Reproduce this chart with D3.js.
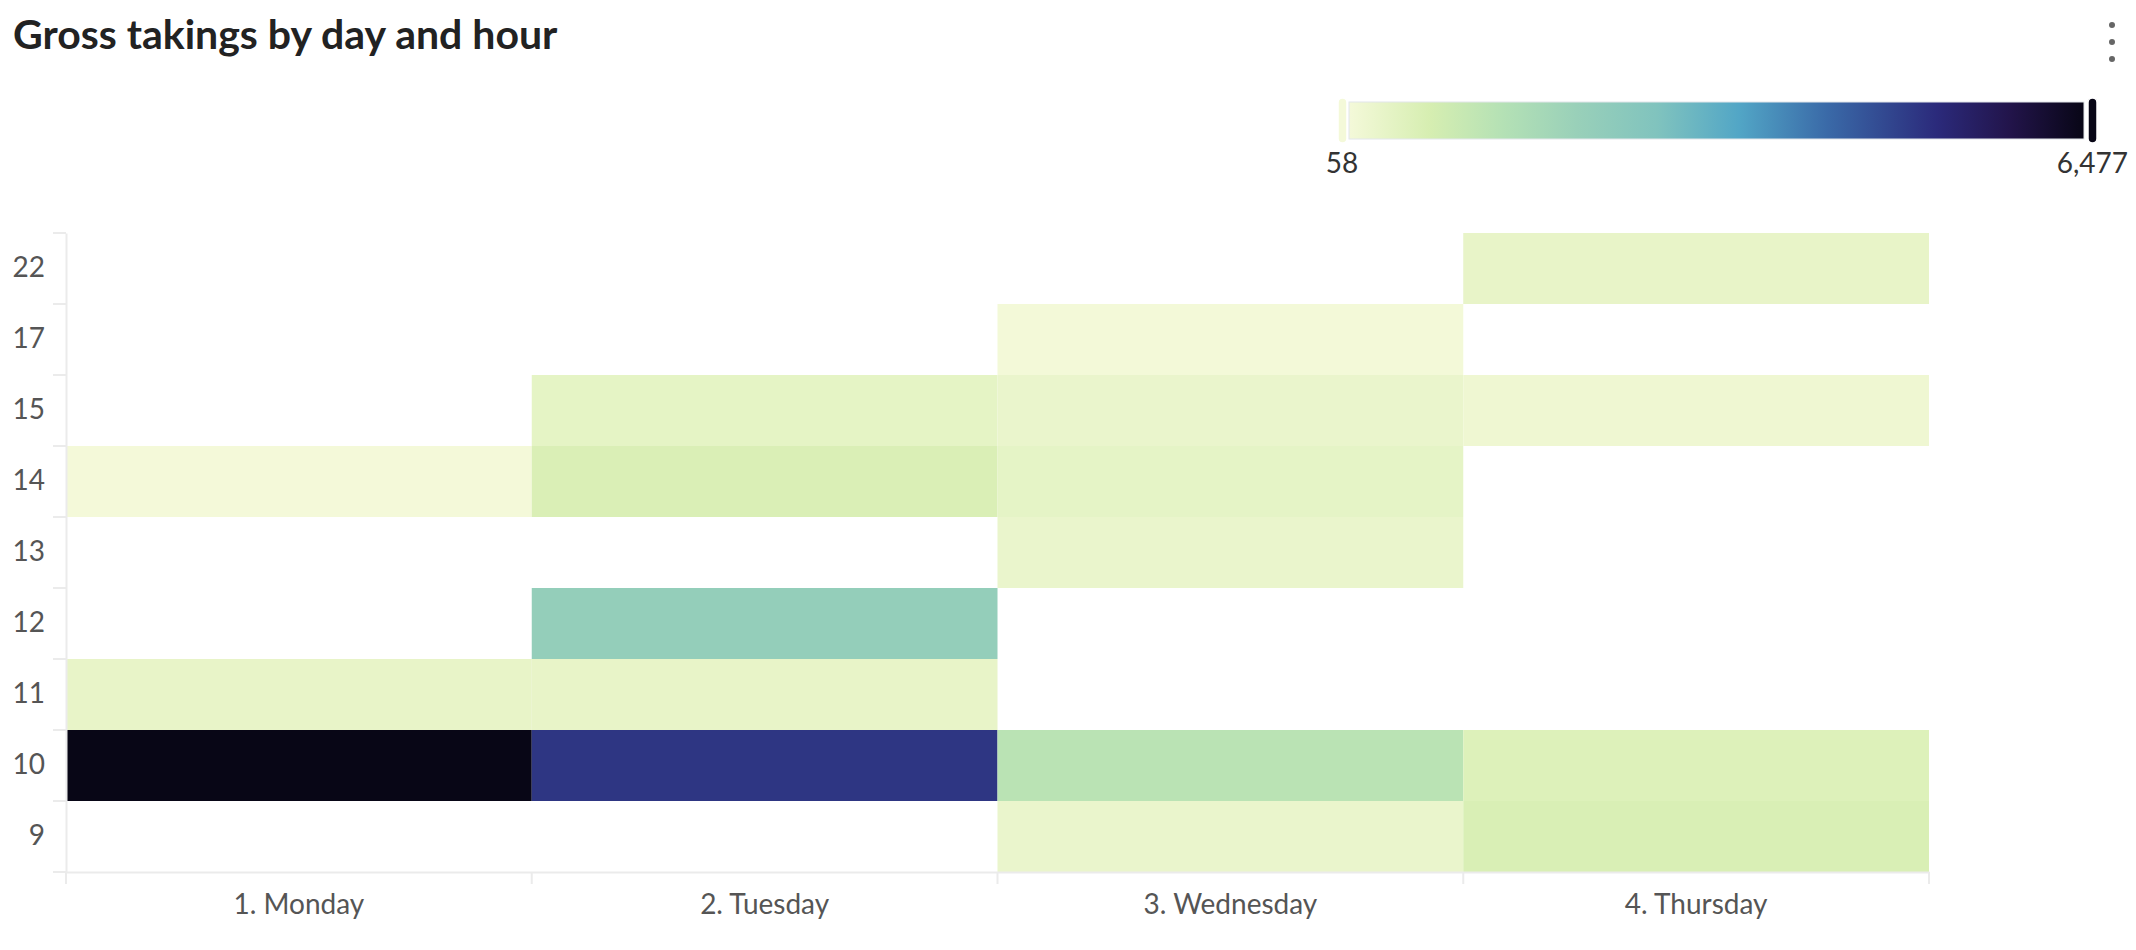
<!DOCTYPE html>
<html lang="en">
<head>
    <meta charset="UTF-8">
    <title>Gross takings by day and hour</title>
    <style>
        body { margin: 0; background: #fff; }
        svg { display: block; font-family: Lato, 'Open Sans', sans-serif; }
    </style>
</head>
<body>
    <div class="visHolder"></div>

    <script src="https://cdnjs.cloudflare.com/ajax/libs/d3/7.2.0/d3.min.js"></script>
    <script>
        // data (null = no sales in that hour)
        var days = ['1. Monday', '2. Tuesday', '3. Wednesday', '4. Thursday'];
        var hours = ['22', '17', '15', '14', '13', '12', '11', '10', '9'];

        var monday    = [null, null, null, 58,   null, null, 350,  6477, null];
        var tuesday   = [null, null, 410,  668,  null, 2180, 350,  5020, null];
        var wednesday = [null, 72,   285,  400,  290,  null, null, 1290, 290];
        var thursday  = [350,  null, 175,  null, null, null, null, 600,  700];

        // colour ramp of the legend (position along the bar, colour)
        var rampPositions = [0, 0.11, 0.21, 0.31, 0.42, 0.53, 0.65, 0.8, 0.9, 1];
        var rampColours = ['#f4f9d9', '#d6eeb1', '#b4e1b5', '#99d0b9', '#80c3be',
                           '#52a6c6', '#3a6aa8', '#2b2a7b', '#22144a', '#080616'];

        var width = 2136, height = 950;
        var margin = { top: 233, right: 207, bottom: 78, left: 66 };
        var plotW = width - margin.left - margin.right;
        var plotH = height - margin.top - margin.bottom;

        var svg = d3.select('.visHolder')
                    .append('svg')
                    .attr('width', width)
                    .attr('height', height);

        // flatten into cells
        var takings = [monday, tuesday, wednesday, thursday];
        var cells = [];
        takings.forEach(function (col, i) {
            col.forEach(function (v, j) {
                if (v !== null) cells.push({ day: days[i], hour: hours[j], value: v });
            });
        });

        var vMin = d3.min(cells, function (d) { return d.value; });
        var vMax = d3.max(cells, function (d) { return d.value; });

        var color = d3.scaleLinear()
                      .domain(rampPositions.map(function (p) { return vMin + p * (vMax - vMin); }))
                      .range(rampColours)
                      .interpolate(d3.interpolateRgb);

        var x = d3.scaleBand().domain(days).range([0, plotW]);
        var y = d3.scaleBand().domain(hours).range([0, plotH]);

        // title
        svg.append('text')
           .attr('x', 13)
           .attr('y', 49)
           .attr('font-size', 41)
           .attr('font-weight', 700)
           .attr('fill', '#222')
           .text('Gross takings by day and hour');

        // menu dots
        svg.selectAll('.dot')
           .data([25, 42, 59])
           .enter()
           .append('circle')
           .attr('cx', 2112)
           .attr('cy', function (d) { return d; })
           .attr('r', 3)
           .attr('fill', '#666');

        // legend
        var legX0 = 1349, legX1 = 2084, legY = 102, legH = 37;
        var grad = svg.append('defs')
                      .append('linearGradient')
                      .attr('id', 'ramp');
        grad.selectAll('stop')
            .data(rampPositions)
            .enter()
            .append('stop')
            .attr('offset', function (d) { return d * 100 + '%'; })
            .attr('stop-color', function (d, i) { return rampColours[i]; });

        svg.append('rect')
           .attr('x', legX0)
           .attr('y', legY)
           .attr('width', legX1 - legX0)
           .attr('height', legH)
           .attr('fill', 'url(#ramp)')
           .attr('stroke', '#e2e6ea')
           .attr('stroke-width', 1);

        // handles at both ends
        svg.selectAll('.handle')
           .data([vMin, vMax])
           .enter()
           .append('rect')
           .attr('x', function (d, i) { return i === 0 ? legX0 - 11 : legX1 + 4; })
           .attr('y', legY - 4)
           .attr('width', 9)
           .attr('height', legH + 8)
           .attr('rx', 4.5)
           .attr('fill', function (d) { return color(d); })
           .attr('stroke', '#fff')
           .attr('stroke-width', 1.5);

        var fmt = d3.format(',');
        svg.append('text')
           .attr('x', legX0 - 7)
           .attr('y', 173)
           .attr('text-anchor', 'middle')
           .attr('font-size', 28)
           .attr('fill', '#333')
           .text(fmt(vMin));
        svg.append('text')
           .attr('x', 2128)
           .attr('y', 173)
           .attr('text-anchor', 'end')
           .attr('font-size', 28)
           .attr('fill', '#333')
           .text(fmt(vMax));

        var g = svg.append('g')
                   .attr('transform', 'translate(' + margin.left + ',' + margin.top + ')');

        // heat cells
        g.selectAll('rect.cell')
         .data(cells)
         .enter()
         .append('rect')
         .attr('class', 'cell')
         .attr('x', function (d) { return x(d.day); })
         .attr('y', function (d) { return y(d.hour); })
         .attr('width', x.bandwidth())
         .attr('height', y.bandwidth())
         .attr('fill', function (d) { return color(d.value); });

        // y axis: labels in the middle of the rows, ticks on the row edges
        var yAxis = g.append('g')
                     .call(d3.axisLeft(y).tickSize(0).tickPadding(21));
        yAxis.select('.domain').attr('stroke', '#ebebeb').attr('stroke-width', 2);
        yAxis.selectAll('text')
             .attr('font-family', 'Lato, sans-serif')
             .attr('font-size', 28)
             .attr('fill', '#555');
        var yEdges = hours.map(function (h) { return y(h); }).concat([plotH]);
        g.selectAll('.ytick')
         .data(yEdges)
         .enter()
         .append('line')
         .attr('x1', -13).attr('x2', 0)
         .attr('y1', function (d) { return d; })
         .attr('y2', function (d) { return d; })
         .attr('stroke', '#ebebeb')
         .attr('stroke-width', 2);

        // x axis: labels centred, ticks on column edges
        var xAxis = g.append('g')
                     .attr('transform', 'translate(0,' + plotH + ')')
                     .call(d3.axisBottom(x).tickSize(0).tickPadding(22));
        xAxis.select('.domain').attr('stroke', '#ebebeb').attr('stroke-width', 2);
        xAxis.selectAll('text')
             .attr('font-family', 'Lato, sans-serif')
             .attr('font-size', 28)
             .attr('fill', '#555');
        var xEdges = days.map(function (d) { return x(d); }).concat([plotW]);
        g.selectAll('.xtick')
         .data(xEdges)
         .enter()
         .append('line')
         .attr('x1', function (d) { return d; })
         .attr('x2', function (d) { return d; })
         .attr('y1', plotH).attr('y2', plotH + 12)
         .attr('stroke', '#ebebeb')
         .attr('stroke-width', 2);
    </script>
</body>
</html>
